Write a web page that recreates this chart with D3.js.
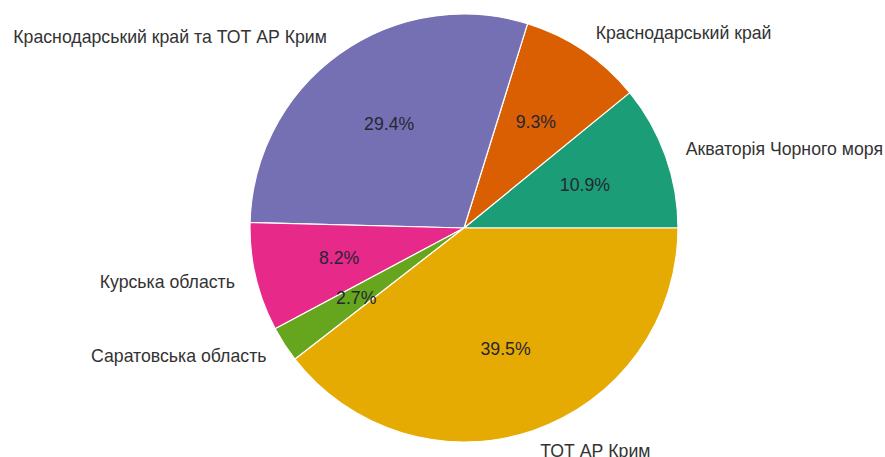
<!DOCTYPE html>
<html><head><meta charset="utf-8">
<script src="https://cdn.jsdelivr.net/npm/d3@7"></script>
<style>body{margin:0;background:#fff}</style>
</head><body>
<svg id="c" width="885" height="457"></svg>
<script>
const categories = ["Акваторія Чорного моря","Краснодарський край","Краснодарський край та ТОТ АР Крим","Курська область","Саратовська область","ТОТ АР Крим"];
const values = [10.9, 9.3, 29.4, 8.2, 2.7, 39.5];
const colors = ["#1b9e77","#d95f02","#7570b3","#e7298a","#66a61e","#e6ab02"];

const svg = d3.select("#c");
const cx = 464, cy = 228, r = 214;
const g = svg.append("g").attr("transform", `translate(${cx},${cy})`);
// matplotlib: counterclockwise from 3 o'clock. d3 angle: clockwise from 12 o'clock.
const pie = d3.pie().sort(null).value(d => d)
  .startAngle(Math.PI/2).endAngle(Math.PI/2 - 2*Math.PI);
const arcs = pie(values);
const arc = d3.arc().innerRadius(0).outerRadius(r);
g.selectAll("path").data(arcs).join("path")
  .attr("d", arc).attr("fill", (d,i) => colors[i])
  .attr("stroke", "#fff").attr("stroke-width", 1.2).attr("stroke-linejoin","round");

function pos(d, k) {
  const a = (d.startAngle + d.endAngle) / 2; // d3 angle
  return [k * r * Math.sin(a), -k * r * Math.cos(a)];
}
const total = d3.sum(values);
const fs = "17.7px";
g.selectAll("text.lab").data(arcs).join("text").attr("class","lab")
  .attr("x", d => pos(d,1.1)[0]).attr("y", d => pos(d,1.1)[1])
  .attr("text-anchor", d => pos(d,1.1)[0] > 0 ? "start" : "end")
  .attr("dominant-baseline","central")
  .style("font-family","'Liberation Sans', Arial, sans-serif").style("font-size",fs)
  .attr("fill","#333")
  .text((d,i) => categories[i]);
g.selectAll("text.pct").data(arcs).join("text").attr("class","pct")
  .attr("x", d => pos(d,0.6)[0]).attr("y", d => pos(d,0.6)[1])
  .attr("text-anchor","middle").attr("dominant-baseline","central")
  .style("font-family","'Liberation Sans', Arial, sans-serif").style("font-size",fs)
  .attr("fill","#262633")
  .text(d => (d.value/total*100).toFixed(1) + "%");
</script>
</body></html>
